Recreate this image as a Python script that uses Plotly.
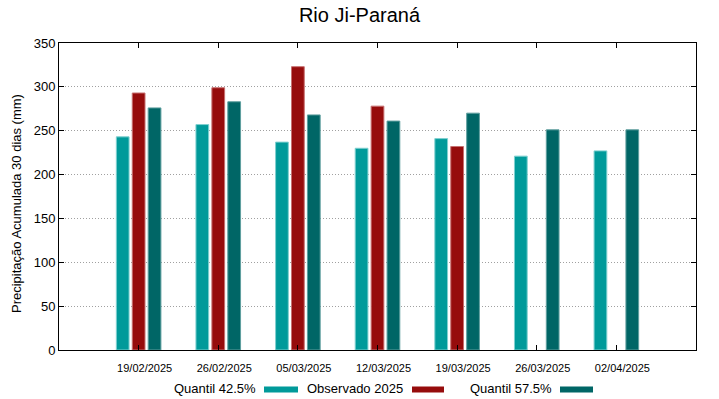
import plotly.graph_objects as go

dates = ["19/02/2025", "26/02/2025", "05/03/2025", "12/03/2025",
         "19/03/2025", "26/03/2025", "02/04/2025"]
q425 = [243, 257, 237, 230, 241, 221, 227]
obs2025 = [293, 299, 323, 278, 232, None, None]
q575 = [276, 283, 268, 261, 270, 251, 251]
names = ["Quantil 42.5%", "Observado 2025", "Quantil 57.5%"]
colors = ["#009a9a", "#960c0c", "#006666"]
edges = ["#7fd0d0", "#c77070", "#5f9f9f"]
yticks = [0, 50, 100, 150, 200, 250, 300, 350]
ytitle = "Precipitação Acumulada 30 dias (mm)"

fig = go.Figure()
for name, vals, c, e in zip(names, [q425, obs2025, q575], colors, edges):
    fig.add_trace(go.Bar(x=dates, y=vals, name=name, marker=dict(color=c, line=dict(color=e, width=1)),
                         showlegend=False))

W, H = 719, 399
L, R, T, B = 59, 23, 43, 49
font = "Liberation Sans, Arial, sans-serif"
fig.update_layout(
    width=W, height=H,
    margin=dict(l=L, r=R, t=T, b=B, autoexpand=False),
    paper_bgcolor="white", plot_bgcolor="white",
    barmode="group", bargap=0.4, bargroupgap=0.2,
    font=dict(family=font, color="black", size=13),
    title=dict(text="Rio Ji-Paraná", x=0.5, xanchor="center", y=1 - 15 / H, yanchor="middle",
               font=dict(size=20, family=font)),
)
fig.update_xaxes(range=[-1, 7], showline=True, linecolor="black", linewidth=1, mirror="allticks",
                 ticks="inside", ticklen=5, tickcolor="black", showgrid=False, automargin=False,
                 tickfont=dict(size=11), tickangle=0, ticklabelshift=6, ticklabelstandoff=8)
fig.update_yaxes(range=[0, 350], tickvals=yticks, showline=True, linecolor="black", linewidth=1,
                 mirror="allticks", ticks="inside", ticklen=5, tickcolor="black", automargin=False,
                 showgrid=True, gridcolor="#a0a0a0", griddash="1px,2px", gridwidth=1,
                 zeroline=False, tickfont=dict(size=13))

pw = W - L - R
ph = H - T - B
# y-axis title
fig.add_annotation(x=(16 - L) / pw, y=(H - B - 204) / ph, xref="paper", yref="paper", text=ytitle,
                   textangle=-90, showarrow=False, xanchor="center", yanchor="middle",
                   font=dict(size=13))

# Legend below the axis (text followed by a sample swatch), reference pixel positions
leg_x = [(258, 264, 298), (405, 412, 444), (554, 560, 593)]
ly = (H - 388 - B) / ph
sy = (H - 389.5 - B) / ph
for (tx, s0, s1), name, c in zip(leg_x, names, colors):
    fig.add_annotation(x=(tx - L) / pw, y=ly, xref="paper", yref="paper", text=name,
                       showarrow=False, xanchor="right", yanchor="middle", font=dict(size=13))
    fig.add_shape(type="rect", xref="paper", yref="paper",
                  x0=(s0 - L) / pw, x1=(s1 - L) / pw, y0=sy - 3 / ph, y1=sy + 3 / ph,
                  fillcolor=c, line=dict(width=0))

fig.write_html("out.html", config={"displayModeBar": False},
               post_script="document.body.style.margin='0';document.body.style.overflow='hidden';")
